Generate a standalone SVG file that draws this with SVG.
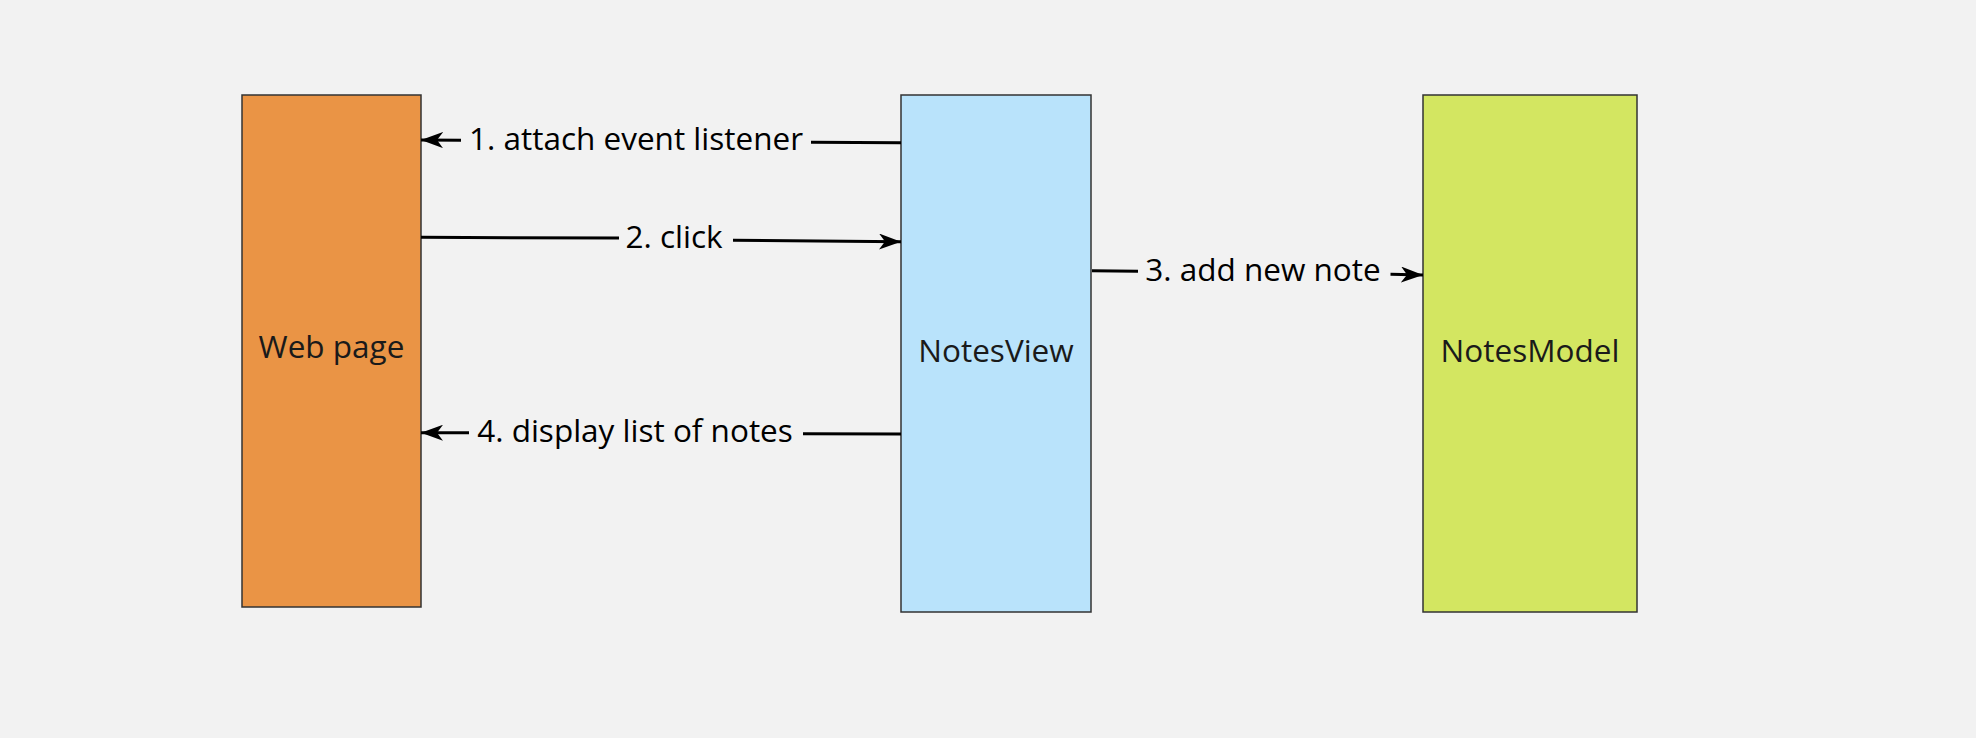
<svg xmlns="http://www.w3.org/2000/svg" width="1976" height="738" viewBox="0 0 1976 738">
  <defs>
    <style>
      .box { stroke: #333333; stroke-width: 1.5; }
      .nlabel { font-family: "Open Sans", "Noto Sans", sans-serif; font-size: 31.5px; fill: #1a1a1a; text-anchor: middle; }
      .elabel { font-family: "Open Sans", "Noto Sans", sans-serif; font-size: 31.5px; fill: #000000; text-anchor: middle; }
      .edge { fill: none; stroke: #000000; stroke-width: 3; }
    </style>
    <marker id="arrow" viewBox="0 0 22 16" refX="22" refY="8" markerWidth="22" markerHeight="16" markerUnits="userSpaceOnUse" orient="auto">
      <path d="M0,0 L22,8 L0,16 L6,8 Z" fill="#000000"/>
    </marker>
  </defs>
  <rect x="0" y="0" width="1976" height="738" fill="#f2f2f2"/>

  <g id="webpage">
    <rect class="box" x="242" y="95" width="179" height="512" fill="#ea9445"/>
    <text class="nlabel" x="331.5" y="358">Web page</text>
  </g>
  <g id="notesview">
    <rect class="box" x="901" y="95" width="190" height="517" fill="#b9e3fb"/>
    <text class="nlabel" x="996" y="361.5">NotesView</text>
  </g>
  <g id="notesmodel">
    <rect class="box" x="1423" y="95" width="214" height="517" fill="#d3e661"/>
    <text class="nlabel" x="1530" y="361.5">NotesModel</text>
  </g>

  <g id="connectors">
    <!-- 1. attach event listener: NotesView -> Web page -->
    <path class="edge" d="M901,142.7 L811,142.2"/>
    <path class="edge" d="M461,140.2 L421,140" marker-end="url(#arrow)"/>
    <text class="elabel" x="636" y="150">1. attach event listener</text>

    <!-- 2. click: Web page -> NotesView -->
    <path class="edge" d="M421,237.3 L619,238.1"/>
    <path class="edge" d="M733,240.2 L901,241.7" marker-end="url(#arrow)"/>
    <text class="elabel" x="674" y="248">2. click</text>

    <!-- 3. add new note: NotesView -> NotesModel -->
    <path class="edge" d="M1092,270.7 L1138,271.2"/>
    <path class="edge" d="M1390.5,274.3 L1423,275" marker-end="url(#arrow)"/>
    <text class="elabel" x="1263" y="281">3. add new note</text>

    <!-- 4. display list of notes: NotesView -> Web page -->
    <path class="edge" d="M901,434 L803,433.7"/>
    <path class="edge" d="M469,432.8 L421,432.7" marker-end="url(#arrow)"/>
    <text class="elabel" x="635" y="442">4. display list of notes</text>
  </g>
</svg>
